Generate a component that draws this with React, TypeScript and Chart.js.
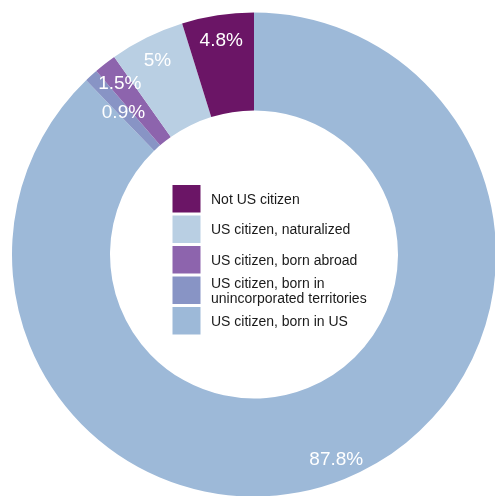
import React, { useEffect, useRef } from "react";
import { Chart, registerables } from "chart.js";

Chart.register(...registerables);

// Data (legend order)
const categories: string[] = [
  "Not US citizen",
  "US citizen, naturalized",
  "US citizen, born abroad",
  "US citizen, born in unincorporated territories",
  "US citizen, born in US",
];
const shares: number[] = [4.8, 5, 1.5, 0.9, 87.8];
const colors: string[] = ["#6b1566", "#b9cfe3", "#8d64ad", "#8894c5", "#9db9d8"];

// label inset from outer edge per category (legend order)
const labelInset: number[] = [24, 24, 24, 48, 22];

const FONT = 'Arial, "Liberation Sans", Helvetica, sans-serif';

function wrapText(ctx: CanvasRenderingContext2D, text: string, maxW: number): string[] {
  const words = text.split(" ");
  const lines: string[] = [];
  let cur = "";
  for (const w of words) {
    const test = cur ? cur + " " + w : w;
    if (ctx.measureText(test).width > maxW && cur) {
      lines.push(cur);
      cur = w;
    } else {
      cur = test;
    }
  }
  if (cur) lines.push(cur);
  return lines;
}

const overlayPlugin = {
  id: "overlay",
  afterDatasetsDraw(chart: any) {
    const ctx: CanvasRenderingContext2D = chart.ctx;
    const meta = chart.getDatasetMeta(0);
    const ds = chart.data.datasets[0];
    const n = meta.data.length;
    ctx.save();
    // value labels
    ctx.font = "19px " + FONT;
    ctx.fillStyle = "#ffffff";
    ctx.textAlign = "center";
    ctx.textBaseline = "alphabetic";
    let cx = 0;
    let cy = 0;
    meta.data.forEach((arc: any, i: number) => {
      const p = arc.getProps(["startAngle", "endAngle", "outerRadius", "x", "y"], true);
      cx = p.x;
      cy = p.y;
      const mid = (p.startAngle + p.endAngle) / 2;
      const legendIdx = n - 1 - i;
      const r = p.outerRadius - labelInset[legendIdx];
      const tx = p.x + Math.cos(mid) * r;
      const ty = p.y + Math.sin(mid) * r;
      ctx.fillText(String(ds.data[i]) + "%", tx, ty + 6.8);
    });

    // legend in centre (legend order = reversed chart order)
    const left = cx - 81.5;
    const top = cy - 69.5;
    const pitch = 30.5;
    const sw = 28;
    const sh = 27.5;
    ctx.font = "14px " + FONT;
    ctx.textAlign = "left";
    ctx.fillStyle = "#1a1a1a";
    const labels: string[] = chart.data.labels;
    const bg: string[] = ds.backgroundColor;
    for (let k = 0; k < n; k++) {
      const ci = n - 1 - k;
      const y0 = top + k * pitch;
      ctx.fillStyle = bg[ci];
      ctx.fillRect(left, y0, sw, sh);
      ctx.fillStyle = "#1a1a1a";
      const lines = wrapText(ctx, labels[ci], 180);
      const center = y0 + sh / 2;
      lines.forEach((ln, j) => {
        const by = center + 5 + (j - (lines.length - 1) / 2) * 14.5;
        ctx.fillText(ln, left + 38.5, by);
      });
    }
    ctx.restore();
  },
};

export default function App() {
  const ref = useRef<HTMLCanvasElement | null>(null);
  useEffect(() => {
    if (!ref.current) return;
    const chart = new Chart(ref.current, {
      type: "doughnut",
      data: {
        labels: [...categories].reverse(),
        datasets: [
          {
            data: [...shares].reverse(),
            backgroundColor: [...colors].reverse(),
            borderWidth: 0,
            hoverOffset: 0,
            offset: 0,
            spacing: 0,
          } as any,
        ],
      },
      options: {
        responsive: false,
        animation: false,
        devicePixelRatio: 1,
        cutout: "59.5%",
        rotation: 0,
        layout: { padding: { left: 12, right: 14, top: 12, bottom: 3 } },
        plugins: {
          legend: { display: false },
          tooltip: { enabled: false },
        },
      } as any,
      plugins: [overlayPlugin],
    });
    return () => chart.destroy();
  }, []);
  return (
    <div
      style={{
        position: "absolute",
        left: 0,
        top: 0,
        width: 495,
        height: 496,
        overflow: "hidden",
        background: "#ffffff",
      }}
    >
      <canvas ref={ref} width={510} height={500} style={{ width: 510, height: 500, display: "block" }} />
    </div>
  );
}
